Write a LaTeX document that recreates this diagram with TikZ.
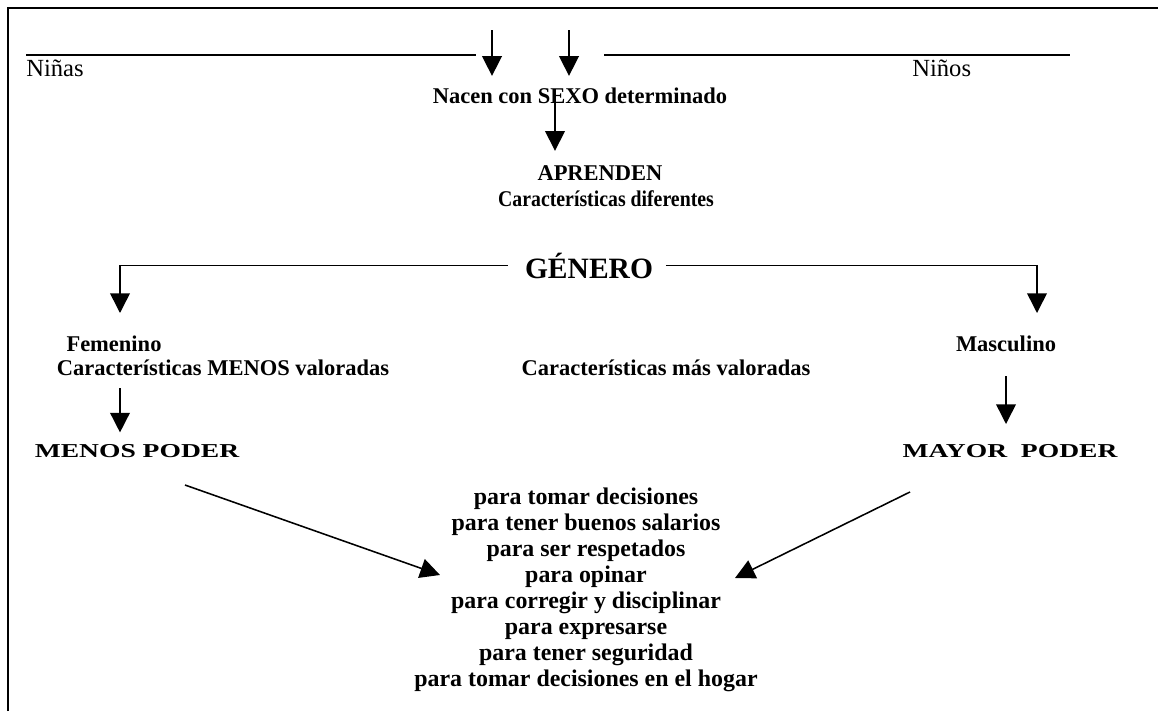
\documentclass[tikz,border=0pt]{standalone}
\usepackage{fontspec}
\setmainfont{Liberation Serif}
\newfontfamily\widefont{Liberation Serif}[FakeStretch=1.4]
\newfontfamily\narrowfont{Liberation Serif}[FakeStretch=0.88]
\usetikzlibrary{arrows.meta}
\begin{document}
\begin{tikzpicture}[x=0.025cm,y=-0.025cm,
  plain/.style={font=\fontsize{17.5}{20}\selectfont, inner sep=0pt},
  bold/.style={font=\bfseries\fontsize{16}{19}\selectfont, inner sep=0pt, align=center},
  big/.style={font=\bfseries\fontsize{21}{24}\selectfont, inner sep=0pt},
  poder/.style={font=\widefont\bfseries\fontsize{14}{17}\selectfont, inner sep=0pt},
  lista/.style={font=\bfseries\fontsize{17}{18.5}\selectfont, inner sep=0pt, align=center},
  arr/.style={-{Triangle[width=14pt,length=14pt]}, line width=1.1pt}]
\useasboundingbox (0,0) rectangle (1158,711);
\draw[line width=1.5pt] (8,711)--(8,8)--(1158,8);
\coordinate (la) at (26,55);
\coordinate (lb) at (476,55);
\coordinate (ra) at (604,55);
\coordinate (rb) at (1070,55);
\draw[line width=0.8pt] (la)--(lb) (ra)--(rb);
\node[plain, anchor=base west] (ninas) at (26,76) {Niñas};
\node[plain, anchor=base west] (ninos) at (912,76) {Niños};
\node[bold, anchor=base] (nacen) at (580,103) {Nacen con SEXO determinado};
\coordinate (t1) at (492,30);
\coordinate (t2) at (569,30);
\draw[arr] (t1)--([yshift=8pt]t1 |- nacen.north);
\draw[arr] (t2)--([yshift=8pt]t2 |- nacen.north);
\node[bold, anchor=base] (aprenden) at (600,180) {APRENDEN};
\node[bold, font=\narrowfont\bfseries\fontsize{16}{19}\selectfont, anchor=base] (difer) at (606,206) {Características diferentes};
\coordinate (s1) at (555,95);
\draw[arr] (s1)--([yshift=10pt]s1 |- aprenden.north);
\node[big, anchor=base] (genero) at (589,278) {GÉNERO};
\coordinate (fc) at (120,313);
\coordinate (mc) at (1037,313);
\draw[arr] ([xshift=-12pt]genero.west) -| (fc);
\draw[arr] ([xshift=9pt]genero.east) -| (mc);
\node[bold, anchor=base] (femenino) at (114,351) {Femenino};
\node[bold, anchor=base] (menosval) at (223,375) {Características MENOS valoradas};
\node[bold, anchor=base] (masval) at (666,375) {Características más valoradas};
\node[bold, anchor=base] (masculino) at (1006,351) {Masculino};
\node[poder, anchor=base] (menos) at (137,457) {MENOS PODER};
\node[poder, anchor=base] (mayor) at (1010,457) {MAYOR\ \ PODER};
\coordinate (f1) at (120,388);
\coordinate (m1) at (1006,376);
\draw[arr] (f1)--([yshift=8pt]f1 |- menos.north);
\draw[arr] (m1)--([yshift=14pt]m1 |- mayor.north);
\node[lista, anchor=north] (lista) at (586,488) {para tomar decisiones\\para tener buenos salarios\\para ser respetados\\para opinar\\para corregir y disciplinar\\para expresarse\\para tener seguridad\\para tomar decisiones en el hogar};
\coordinate (d1) at (185,485);
\coordinate (d2) at (910,492);
\draw[arr] (d1)--(440,575) coordinate (e1);
\draw[arr] (d2)--(735,578) coordinate (e2);
\end{tikzpicture}
\end{document}
